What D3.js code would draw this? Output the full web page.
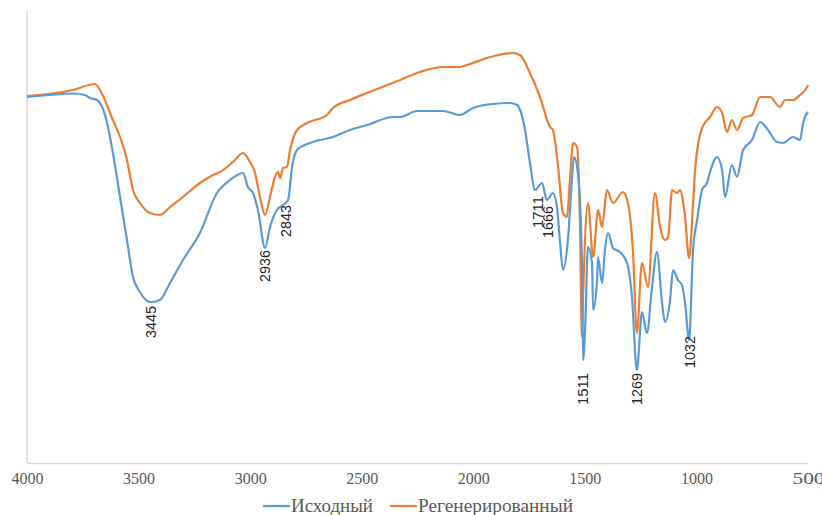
<!DOCTYPE html>
<html><head><meta charset="utf-8">
<script src="https://cdn.jsdelivr.net/npm/d3@7"></script>
<style>body{margin:0;background:#fff}svg{display:block}</style>
</head><body>
<svg id="c" width="822" height="515"></svg>
<script>
const seriesNames = ["Исходный", "Регенерированный"];
const xTicks = [4000, 3500, 3000, 2500, 2000, 1500, 1000, 500];

// wavenumber (cm-1) and transmittance (arbitrary units)
const blueWN = [4000,3897,3794,3740,3718,3686,3641,3615,3583,3552,3525,3494,3449,3440,3404,3359,3301,3225,3149,3090,3032,3010,2987,2965,2933,2911,2880,2853,2830,2812,2790,2732,2629,2553,2476,2360,2328,2252,2136,2060,2001,1912,1835,1804,1777,1768,1746,1723,1692,1670,1643,1625,1611,1598,1576,1558,1549,1531,1513,1508,1499,1486,1468,1463,1446,1441,1423,1410,1396,1374,1343,1311,1289,1267,1244,1222,1199,1177,1154,1141,1118,1105,1083,1065,1051,1033,1015,997,984,975,953,939,908,885,872,841,818,791,751,715,679,639,612,567,536,522,504,500];
const blueT = [73.2,73.6,73.9,73.6,73.0,72.6,68.0,62.0,53.2,44.6,37.2,34.2,32.2,32.2,32.6,36.0,40.6,46.0,54.0,56.6,58.0,55.2,54.0,50.6,43.0,47.2,50.6,51.6,52.6,59.2,62.6,64.0,65.2,66.6,67.6,69.2,69.2,70.4,70.4,69.6,71.0,71.8,72.0,71.6,68.6,66.6,60.0,54.6,56.0,52.6,54.0,51.2,44.0,38.6,44.6,56.6,61.2,58.0,40.0,20.6,26.6,43.2,40.0,30.6,36.0,41.2,36.0,42.6,46.0,43.0,42.2,40.0,33.2,18.6,30.2,26.0,35.2,42.2,32.0,28.2,32.6,38.6,36.6,35.6,32.0,24.6,42.6,48.6,52.6,54.6,56.0,58.2,61.2,58.6,53.2,59.6,57.2,62.6,64.6,68.2,66.6,64.2,64.0,65.2,64.6,68.0,70.0,70.2];

const orangeWN = [4000,3794,3695,3673,3615,3583,3552,3525,3494,3449,3404,3359,3301,3225,3166,3135,3077,3032,3001,2978,2956,2933,2911,2889,2875,2866,2853,2835,2821,2790,2745,2656,2629,2553,2476,2328,2239,2136,2060,2028,1939,1822,1791,1746,1701,1656,1643,1620,1598,1580,1567,1553,1535,1522,1513,1508,1486,1463,1441,1423,1401,1374,1329,1307,1284,1267,1244,1217,1186,1163,1141,1127,1109,1087,1074,1051,1033,1015,1006,975,939,908,885,863,841,818,791,751,715,670,626,603,567,536,504,500];
const orangeT = [73.4,74.6,75.8,74.6,68.6,65.2,60.6,54.6,52.0,50.0,49.6,51.2,53.2,56.0,57.6,58.2,60.2,62.0,60.2,58.0,53.2,49.6,53.2,57.2,58.2,57.0,59.0,59.2,62.6,66.6,68.0,69.6,71.0,72.6,74.0,76.6,78.2,79.2,79.2,79.6,81.0,82.0,81.6,78.0,73.2,67.2,66.6,59.2,50.0,49.2,56.6,64.0,63.2,48.0,25.2,33.2,52.0,41.2,50.6,47.2,54.6,52.0,54.2,52.0,42.0,26.0,40.0,35.2,54.0,47.2,44.6,45.2,54.6,54.0,54.6,49.2,41.0,52.0,58.6,67.0,69.2,71.2,70.0,66.2,68.6,66.6,69.0,69.6,73.2,73.2,71.2,72.6,72.6,73.6,75.2,75.6];

const peakLabels = ["3445","2936","2843","1711","1666","1511","1269","1032"];
const peakWN = [3445,2936,2843,1711,1666,1511,1269,1032];
const peakLabelT = [31.4,42.6,51.6,53.4,51.4,18.0,18.0,25.4];

const colors = ["#5B9BD5", "#ED7D31"];

const svg = d3.select("#c");
const x = d3.scaleLinear().domain([4000, 500]).range([27, 808]);
const y = d3.scaleLinear().domain([0, 90]).range([463, 13]);

// axes lines
svg.append("line").attr("x1", 27).attr("x2", 27).attr("y1", 11).attr("y2", 463)
  .attr("stroke", "#c8c8c8").attr("stroke-width", 1);
const xAxis = svg.append("g").attr("transform", "translate(0,463)")
  .call(d3.axisBottom(x).tickValues(xTicks).tickSize(0).tickPadding(10).tickFormat(d3.format("d")));
xAxis.select(".domain").attr("stroke", "#d9d9d9").attr("stroke-width", 1.5);
xAxis.selectAll("text").attr("font-family", "'Liberation Serif','Times New Roman',serif")
  .attr("font-size", 16).attr("fill", "#595959").attr("textLength", 32).attr("lengthAdjust", "spacingAndGlyphs");

const line = d3.line().x(d => x(d[0])).y(d => y(d[1])).curve(d3.curveMonotoneX);
const blue = blueWN.map((w, i) => [w, blueT[i]]);
const orange = orangeWN.map((w, i) => [w, orangeT[i]]);
svg.append("path").datum(orange).attr("d", line).attr("fill", "none")
  .attr("stroke", colors[1]).attr("stroke-width", 2.2).attr("stroke-linejoin", "round");
svg.append("path").datum(blue).attr("d", line).attr("fill", "none")
  .attr("stroke", colors[0]).attr("stroke-width", 2.2).attr("stroke-linejoin", "round");

// peak labels
peakLabels.forEach((t, i) => {
  const px = x(peakWN[i]), py = y(peakLabelT[i]);
  svg.append("text").attr("transform", `translate(${px},${py}) rotate(-90)`)
    .attr("text-anchor", "end").attr("dominant-baseline", "central")
    .attr("font-family", "'Liberation Sans',Arial,sans-serif").attr("font-size", 15)
    .attr("textLength", 32).attr("lengthAdjust", "spacingAndGlyphs")
    .attr("fill", "#262626").text(t);
});

// legend
const legX = [263, 390];
const legW = [82, 155];
seriesNames.forEach((n, i) => {
  svg.append("line").attr("x1", legX[i]).attr("x2", legX[i] + 27).attr("y1", 506).attr("y2", 506)
    .attr("stroke", colors[i]).attr("stroke-width", 2.2);
  svg.append("text").attr("x", legX[i] + 28).attr("y", 506).attr("dominant-baseline", "central")
    .attr("font-family", "'Liberation Serif','Times New Roman',serif").attr("font-size", 18)
    .attr("fill", "#595959").attr("textLength", legW[i]).attr("lengthAdjust", "spacingAndGlyphs").text(n);
});
</script>
</body></html>
